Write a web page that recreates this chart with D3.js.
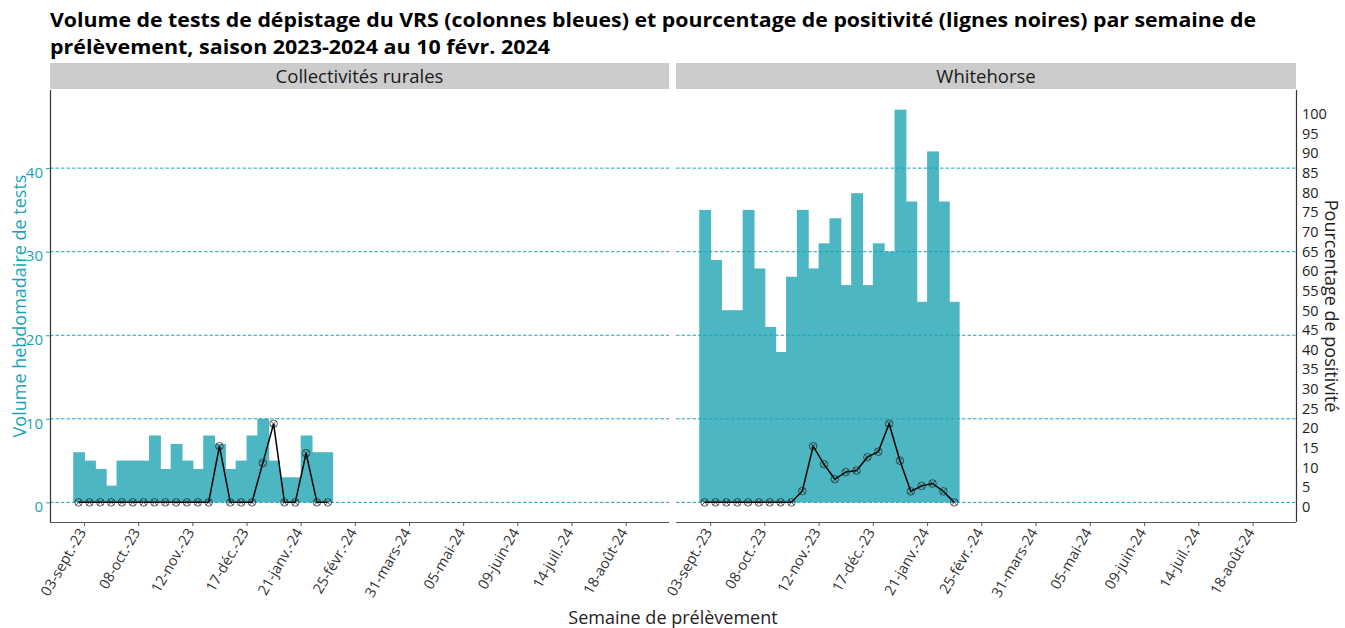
<!DOCTYPE html>
<html>
<head>
<meta charset="utf-8">
<script src="https://cdn.jsdelivr.net/npm/d3@7"></script>
<style>
  body { margin: 0; background: #fff; }
  text { font-family: "Open Sans", "Noto Sans", sans-serif; }
</style>
</head>
<body>
<svg id="chart"></svg>
<script>
// Panel names
const panels = ["Collectivités rurales", "Whitehorse"];

// Week start dates (one bar per week)
const weeks = ["2023-08-27","2023-09-03","2023-09-10","2023-09-17","2023-09-24","2023-10-01",
  "2023-10-08","2023-10-15","2023-10-22","2023-10-29","2023-11-05","2023-11-12","2023-11-19",
  "2023-11-26","2023-12-03","2023-12-10","2023-12-17","2023-12-24","2023-12-31","2024-01-07",
  "2024-01-14","2024-01-21","2024-01-28","2024-02-04"];

// Weekly test volume
const ruralTests = [6,5,4,2,5,5,5,8,4,7,5,4,8,7,4,5,8,10,5,3,3,8,6,6];
const whitehorseTests = [35,29,23,23,35,28,21,18,27,35,28,31,34,26,37,26,31,30,47,36,24,42,36,24];

// Percent positivity
const ruralPct = [0,0,0,0,0,0,0,0,0,0,0,0,0,14.3,0,0,0,10,20,0,0,12.5,0,0];
const whitehorsePct = [0,0,0,0,0,0,0,0,0,2.9,14.3,9.7,5.9,7.7,8.1,11.5,12.9,20,10.6,2.8,4.2,4.8,2.8,0];

// X tick dates and labels
const tickDates = ["2023-09-03","2023-10-08","2023-11-12","2023-12-17","2024-01-21","2024-02-25",
  "2024-03-31","2024-05-05","2024-06-09","2024-07-14","2024-08-18"];
const tickLabels = ["03-sept.-23","08-oct.-23","12-nov.-23","17-déc.-23","21-janv.-24","25-févr.-24",
  "31-mars-24","05-mai-24","09-juin-24","14-juil.-24","18-août-24"];

const titleLines = [
  "Volume de tests de dépistage du VRS (colonnes bleues) et pourcentage de positivité (lignes noires) par semaine de",
  "prélèvement, saison 2023-2024 au 10 févr. 2024"
];

const yTicks = [0, 10, 20, 30, 40];
const pctTicks = d3.range(0, 101, 5);

const width = 1345, height = 628;
const teal = "#4db6c3", gridTeal = "#1aa3b5";
const font = "'Open Sans', 'Noto Sans', sans-serif";

const svg = d3.select("#chart").attr("width", width).attr("height", height);

const parse = d3.utcParse("%Y-%m-%d");
const series = [
  { name: panels[0], tests: ruralTests, pct: ruralPct, x0: 50, x1: 669 },
  { name: panels[1], tests: whitehorseTests, pct: whitehorsePct, x0: 676, x1: 1296 }
];
const plotTop = 90, plotBottom = 522;

// y scale: volume, with ggplot-like 5% expansion; secondary axis maps max volume to 100 %
const maxTests = d3.max(series, s => d3.max(s.tests));
const yScale = d3.scaleLinear()
  .domain([-0.05 * maxTests, 1.05 * maxTests])
  .range([plotBottom, plotTop]);
const pctToTests = p => p * maxTests / 100;

const xDomain = [parse("2023-08-12"), parse("2024-09-15")];
const day = 864e5;

// Title (two lines)
svg.append("text").attr("x", 50).attr("y", 27).attr("font-size", 19.5).attr("font-weight", "bold")
  .attr("fill", "#000").attr("textLength", 1206).attr("lengthAdjust", "spacingAndGlyphs").text(titleLines[0]);
svg.append("text").attr("x", 50).attr("y", 54).attr("font-size", 19.5).attr("font-weight", "bold")
  .attr("fill", "#000").attr("textLength", 500).attr("lengthAdjust", "spacingAndGlyphs").text(titleLines[1]);

series.forEach((s, i) => {
  const x = d3.scaleUtc().domain(xDomain).range([s.x0, s.x1]);
  const g = svg.append("g");

  // strip
  g.append("rect").attr("x", s.x0).attr("y", 63).attr("width", s.x1 - s.x0).attr("height", 26)
    .attr("fill", "#cccccc");
  g.append("text").attr("x", (s.x0 + s.x1) / 2).attr("y", 83).attr("text-anchor", "middle")
    .attr("font-size", 18.5).attr("fill", "#1a1a1a").text(s.name);

  // bars (1px overlap to avoid seams)
  const rows = weeks.map((w, j) => ({ date: parse(w), n: s.tests[j], p: s.pct[j] }));
  g.selectAll(".bar").data(rows).enter().append("rect")
    .attr("class", "bar")
    .attr("x", d => x(d.date))
    .attr("width", (d, j) => x(new Date(+d.date + 7 * day)) - x(d.date) + (j < rows.length - 1 ? 1 : 0))
    .attr("y", d => yScale(d.n))
    .attr("height", d => yScale(0) - yScale(d.n))
    .attr("fill", teal);

  // gridlines
  g.selectAll(".grid").data(yTicks).enter().append("line")
    .attr("x1", s.x0).attr("x2", s.x1)
    .attr("y1", d => yScale(d)).attr("y2", d => yScale(d))
    .attr("stroke", gridTeal).attr("stroke-width", 1).attr("stroke-dasharray", "3.5,2");

  // positivity line
  const mid = d => new Date(+d.date + 3.5 * day);
  g.append("path").datum(rows)
    .attr("fill", "none").attr("stroke", "#000").attr("stroke-width", 1.5)
    .attr("d", d3.line().x(d => x(mid(d))).y(d => yScale(pctToTests(d.p))));

  const marks = g.selectAll(".mk").data(rows).enter().append("g")
    .attr("transform", d => `translate(${x(mid(d))},${yScale(pctToTests(d.p))})`)
    .attr("stroke", "#222").attr("stroke-opacity", 0.8).attr("fill", "none").attr("stroke-width", 0.9);
  marks.append("circle").attr("r", 3.8);
  marks.append("path").attr("d", "M-2.7,-2.7L2.7,2.7M-2.7,2.7L2.7,-2.7");

  // bottom axis
  const xAxis = g.append("g").attr("transform", `translate(0,${plotBottom})`)
    .call(d3.axisBottom(x).tickValues(tickDates.map(parse)).tickSize(4)
      .tickFormat((d, k) => tickLabels[k]));
  xAxis.select(".domain").attr("stroke", "#555").attr("stroke-width", 1.2).attr("d", `M${s.x0},0.5H${s.x1}`);
  xAxis.selectAll(".tick line").attr("stroke", "#555");
  xAxis.selectAll(".tick text")
    .attr("font-size", 14.5).attr("fill", "#333").attr("font-family", font)
    .attr("text-anchor", "end").attr("dy", null).attr("y", 0)
    .attr("transform", "translate(2,10) rotate(-60)");
});

// left y axis
const yAxis = svg.append("g").attr("transform", "translate(50,0)")
  .call(d3.axisLeft(yScale).tickValues(yTicks).tickSize(4));
yAxis.select(".domain").attr("stroke", "#333").attr("stroke-width", 1.2).attr("d", `M0.5,${plotTop}V${plotBottom}`);
yAxis.selectAll(".tick line").attr("stroke", gridTeal);
yAxis.selectAll(".tick text").attr("font-size", 15).attr("fill", gridTeal)
  .attr("font-family", font).attr("dy", "0.62em");

// right percentage axis
const pctScale = d3.scaleLinear().domain(yScale.domain().map(v => v * 100 / maxTests)).range([plotBottom, plotTop]);
const rAxis = svg.append("g").attr("transform", "translate(1296,0)")
  .call(d3.axisRight(pctScale).tickValues(pctTicks).tickSize(0).tickPadding(6));
rAxis.select(".domain").attr("stroke", "#333").attr("stroke-width", 1.2).attr("d", `M0.5,${plotTop}V${plotBottom}`);
rAxis.selectAll(".tick text").attr("font-size", 14.5).attr("fill", "#222")
  .attr("font-family", font).attr("dy", "0.62em");

// axis titles
svg.append("text").attr("transform", `translate(26,${(plotTop + plotBottom) / 2}) rotate(-90)`)
  .attr("text-anchor", "middle").attr("font-size", 18).attr("fill", gridTeal)
  .text("Volume hebdomadaire de tests");
svg.append("text").attr("transform", `translate(1325,${(plotTop + plotBottom) / 2}) rotate(90)`)
  .attr("text-anchor", "middle").attr("font-size", 18).attr("fill", "#222")
  .text("Pourcentage de positivité");
svg.append("text").attr("x", 673).attr("y", 624).attr("text-anchor", "middle")
  .attr("font-size", 18).attr("fill", "#222").text("Semaine de prélèvement");
</script>
</body>
</html>
